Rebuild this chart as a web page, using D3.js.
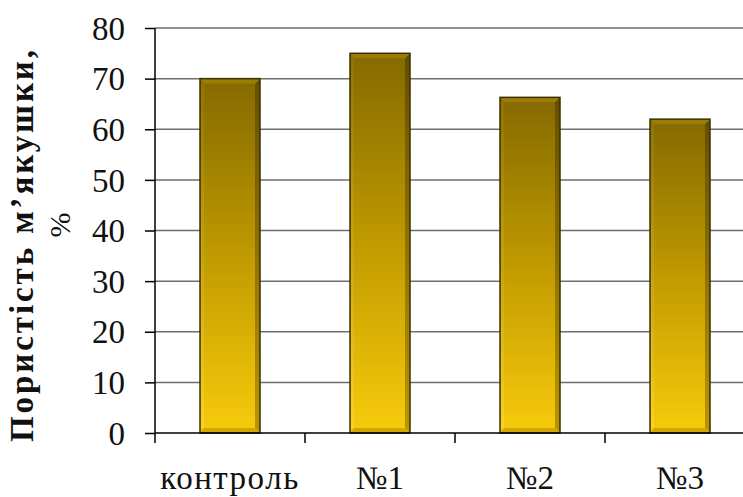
<!DOCTYPE html>
<html><head><meta charset="utf-8">
<script src="https://cdn.jsdelivr.net/npm/d3@7"></script>
<style>body{margin:0;background:#fff}svg{display:block}</style>
</head><body>
<script>
const categories = ["контроль", "№1", "№2", "№3"];
const values = [70, 75, 66.3, 62];
const yTicks = [0, 10, 20, 30, 40, 50, 60, 70, 80];
const yTitle = ["Пористість м’якушки,", "%"];

(function(){
const W = 743, H = 497;
const svg = d3.select("body").append("svg").attr("width", W).attr("height", H);
const defs = svg.append("defs");
const g1 = defs.append("linearGradient").attr("id","barg").attr("x1",0).attr("y1",0).attr("x2",0).attr("y2",1);
g1.append("stop").attr("offset","0%").attr("stop-color","#846900");
g1.append("stop").attr("offset","50%").attr("stop-color","#c09a00");
g1.append("stop").attr("offset","100%").attr("stop-color","#f8cb0c");
const g2 = defs.append("linearGradient").attr("id","bargR").attr("x1",0).attr("y1",0).attr("x2",0).attr("y2",1);
g2.append("stop").attr("offset","0%").attr("stop-color","#5e4a00");
g2.append("stop").attr("offset","100%").attr("stop-color","#b08c00");
const g3 = defs.append("linearGradient").attr("id","bargL").attr("x1",0).attr("y1",0).attr("x2",0).attr("y2",1);
g3.append("stop").attr("offset","0%").attr("stop-color","#977a08");
g3.append("stop").attr("offset","100%").attr("stop-color","#fbd63a");

const pLeft = 155, pTop = 28, pBottom = 433, pRight = 755;
const x = d3.scaleBand().domain(categories).range([pLeft, pRight]).paddingInner(0.6).paddingOuter(0.3);
const y = d3.scaleLinear().domain([0, 80]).range([pBottom, pTop]);

svg.append("g").selectAll("line").data(yTicks.filter(d => d > 0)).join("line")
  .attr("x1", pLeft).attr("x2", W).attr("y1", d => y(d)).attr("y2", d => y(d))
  .attr("stroke", "#6e6e6e").attr("stroke-width", 1.5);

const bars = svg.append("g").selectAll("g").data(categories.map((c,i)=>({c, v: values[i]}))).join("g");
const bw = x.bandwidth();
bars.append("rect").attr("x", d => x(d.c)).attr("y", d => y(d.v)).attr("width", bw).attr("height", d => pBottom - y(d.v))
  .attr("fill", "url(#barg)");
bars.append("rect").attr("x", d => x(d.c) + 1).attr("y", d => y(d.v) + 4).attr("width", 3).attr("height", d => pBottom - y(d.v) - 8)
  .attr("fill", "url(#bargL)").attr("opacity", 0.6);
bars.append("path").attr("d", d => {
  const x0 = x(d.c) + bw, y0 = y(d.v);
  return `M${x0},${y0}L${x0},${pBottom}L${x0-5},${pBottom-5}L${x0-5},${y0+5}Z`;
}).attr("fill", "url(#bargR)").attr("opacity", 0.85);
bars.append("path").attr("d", d => {
  const x0 = x(d.c), y0 = y(d.v);
  return `M${x0},${y0}L${x0+bw},${y0}L${x0+bw-5},${y0+5}L${x0+4},${y0+5}Z`;
}).attr("fill", "#9a7c06");
bars.append("path").attr("d", d => {
  const x0 = x(d.c);
  return `M${x0},${pBottom}L${x0+bw},${pBottom}L${x0+bw-5},${pBottom-5}L${x0+4},${pBottom-5}Z`;
}).attr("fill", "#d2a800");
bars.append("rect").attr("x", d => x(d.c)).attr("y", d => y(d.v)).attr("width", bw).attr("height", d => pBottom - y(d.v))
  .attr("fill", "none").attr("stroke", "#3d3000").attr("stroke-width", 1.5);

const yAxis = svg.append("g").attr("transform", `translate(${pLeft},0)`)
  .call(d3.axisLeft(y).tickValues(yTicks).tickSize(10).tickPadding(20).tickSizeOuter(0));
yAxis.select(".domain").attr("stroke", "#000").attr("stroke-width", 1.5).attr("d", `M0,${pTop}V${pBottom+10}`);
yAxis.selectAll(".tick line").attr("stroke", "#000").attr("stroke-width", 1.5);
yAxis.selectAll(".tick text").attr("font-family", "Liberation Serif").attr("font-size", 33).attr("fill", "#111").attr("dy", "0.34em");

svg.append("line").attr("x1", pLeft).attr("x2", W).attr("y1", pBottom).attr("y2", pBottom).attr("stroke", "#000").attr("stroke-width", 1.5);
const step = x.step();
svg.append("g").selectAll("line").data(categories.slice(0, 3)).join("line")
  .attr("x1", d => x(d) + bw/2 + step/2).attr("x2", d => x(d) + bw/2 + step/2)
  .attr("y1", pBottom).attr("y2", pBottom + 10).attr("stroke", "#000").attr("stroke-width", 1.5);

svg.append("g").selectAll("text").data(categories).join("text")
  .attr("x", d => x(d) + bw/2).attr("y", 489).attr("text-anchor", "middle")
  .attr("font-family", "Liberation Serif").attr("font-size", 33).attr("fill", "#111")
  .attr("letter-spacing", d => d === "контроль" ? 1.5 : 0)
  .text(d => d);

svg.append("text").attr("transform", "translate(33,246) rotate(-90)").attr("text-anchor", "middle")
  .attr("font-family", "Liberation Serif").attr("font-weight", "bold").attr("font-size", 33).attr("fill", "#111")
  .attr("textLength", 392).attr("lengthAdjust", "spacing")
  .text(yTitle[0]);
svg.append("text").attr("transform", "translate(70,225) rotate(-90)").attr("text-anchor", "middle")
  .attr("font-family", "Liberation Serif").attr("font-size", 30).attr("fill", "#111")
  .text(yTitle[1]);
})();
</script>
</body></html>
